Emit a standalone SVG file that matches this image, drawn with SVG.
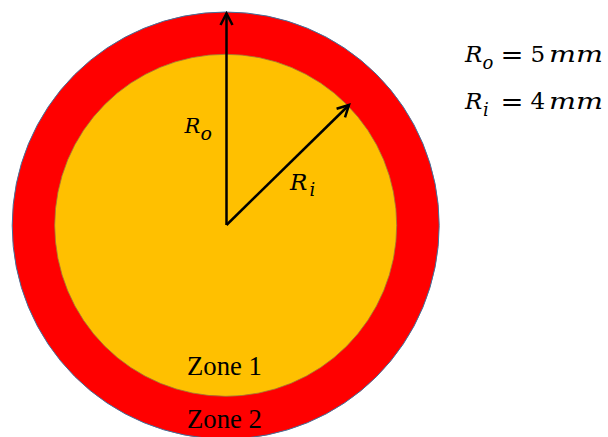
<svg xmlns="http://www.w3.org/2000/svg" width="608" height="437" viewBox="0 0 608 437">
<style>
.math{font-family:"DejaVu Serif","Liberation Serif",serif;fill:#000}
.it{font-style:italic}
.zone{font-family:"Liberation Serif","Times New Roman",serif;font-size:26.7px;fill:#000}
.arrow{stroke:#000;stroke-width:2.5;fill:none}
</style>
<defs>
<marker id="head" markerUnits="userSpaceOnUse" markerWidth="16" markerHeight="16" viewBox="-13 -8 16 16" refX="0" refY="0" orient="auto">
<path d="M-11.5,-6 L0,0 L-11.5,6" fill="none" stroke="#000" stroke-width="2.5" stroke-linejoin="miter"/>
</marker>
</defs>
<rect width="608" height="437" fill="#fff"/>
<g id="zone2">
<circle cx="225.7" cy="225.5" r="213.5" fill="#FF0000" stroke="#41719C" stroke-width="1"/>
<text class="zone" x="187" y="427.5">Zone 2</text>
</g>
<g id="zone1">
<circle cx="225.7" cy="225.3" r="171" fill="#FFC000" stroke="#9C7A3A" stroke-width="0.8"/>
<text class="zone" x="187" y="375">Zone 1</text>
</g>
<g id="connectors">
<line class="arrow" x1="226.5" y1="225" x2="226.5" y2="13.5" marker-end="url(#head)"/>
<line class="arrow" x1="226.5" y1="225" x2="349" y2="105" marker-end="url(#head)"/>
</g>
<g id="labels">
<text class="math it" x="184.5" y="132.5" font-size="21">R</text>
<text class="math it" x="200.5" y="140" font-size="19">o</text>
<text class="math it" x="290" y="189.5" font-size="23">R</text>
<text class="math it" x="309.5" y="196" font-size="18">i</text>
<g id="values">
<text class="math it" x="465" y="62" font-size="23">R</text>
<text class="math it" x="482.5" y="69" font-size="18">o</text>
<text class="math" x="500.5" y="62.5" font-size="24" textLength="23" lengthAdjust="spacingAndGlyphs">=</text>
<text class="math" x="530.5" y="62" font-size="23">5</text>
<text class="math it" x="549" y="62" font-size="23" textLength="54" lengthAdjust="spacingAndGlyphs">mm</text>
<text class="math it" x="465" y="109" font-size="23">R</text>
<text class="math it" x="483" y="116" font-size="18">i</text>
<text class="math" x="500.5" y="109.5" font-size="24" textLength="23" lengthAdjust="spacingAndGlyphs">=</text>
<text class="math" x="530.5" y="109" font-size="23">4</text>
<text class="math it" x="549" y="109" font-size="23" textLength="54" lengthAdjust="spacingAndGlyphs">mm</text>
</g>
</g>
</svg>
